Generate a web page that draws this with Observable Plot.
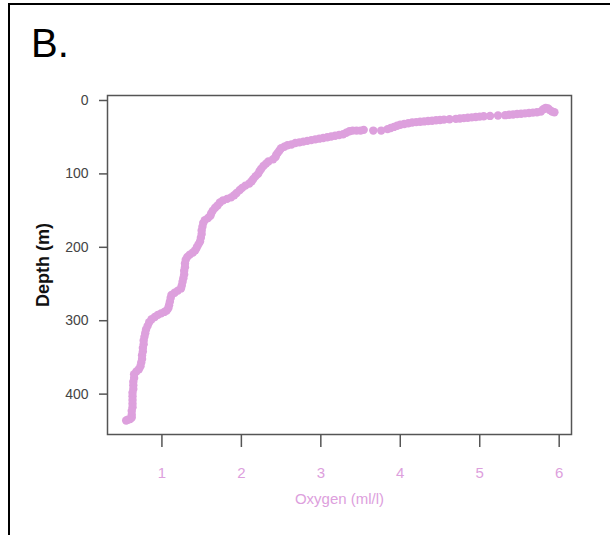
<!DOCTYPE html>
<html>
<head>
<meta charset="utf-8">
<script src="https://cdn.jsdelivr.net/npm/d3@7"></script>
<script src="https://cdn.jsdelivr.net/npm/@observablehq/plot@0.6"></script>
<style>
  html, body { margin: 0; padding: 0; background: #fff; }
  #wrap { position: relative; width: 610px; height: 535px; overflow: hidden; font-family: "Liberation Sans", Arial, sans-serif; }
  #border { position: absolute; left: 8px; top: 3px; width: 700px; height: 600px; border-left: 2.5px solid #000; border-top: 2.5px solid #000; }
  #title { position: absolute; left: 31px; top: 23px; font-size: 40px; line-height: 1; color: #000; }
  #chart { position: absolute; left: 0; top: 60px; }
  #chart g[aria-label="x-axis tick label"] { fill: #dda0dd; }
  #chart g[aria-label="y-axis tick label"] { fill: #444; }
</style>
</head>
<body>
<div id="wrap">
  <div id="border"></div>
  <div id="title">B.</div>
  <div id="chart"></div>
</div>
<script>
// Oxygen (ml/l) and depth (m), read from the profile, surface to bottom
const oxygen = [5.94,5.91,5.88,5.86,5.83,5.80,5.77,5.72,5.67,5.62,5.57,5.52,5.47,5.42,5.37,5.32,5.23,5.13,5.05,5.00,4.95,4.90,4.85,4.80,4.75,4.70,4.62,4.55,4.50,4.45,4.40,4.35,4.30,4.25,4.20,4.15,4.10,4.05,4.00,3.96,3.92,3.88,3.84,3.76,3.66,3.54,3.50,3.45,3.40,3.36,3.32,3.28,3.23,3.18,3.13,3.08,3.03,2.98,2.93,2.88,2.83,2.78,2.73,2.68,2.63,2.58,2.54,2.50,2.48,2.46,2.44,2.43,2.40,2.34,2.31,2.28,2.25,2.23,2.21,2.18,2.15,2.13,2.10,2.05,2.01,1.98,1.94,1.91,1.87,1.82,1.77,1.73,1.70,1.67,1.64,1.62,1.61,1.58,1.54,1.52,1.51,1.50,1.50,1.49,1.48,1.46,1.44,1.42,1.39,1.35,1.32,1.30,1.29,1.29,1.28,1.28,1.27,1.26,1.25,1.24,1.20,1.16,1.12,1.11,1.10,1.09,1.08,1.06,1.03,0.99,0.95,0.91,0.87,0.84,0.82,0.80,0.79,0.78,0.77,0.77,0.76,0.76,0.75,0.75,0.74,0.73,0.71,0.68,0.65,0.65,0.64,0.64,0.64,0.63,0.63,0.63,0.63,0.63,0.62,0.62,0.62,0.60,0.57,0.55];
const depth = [16,15,13,11,10,12,15,16,16.5,17,17.5,18,18.5,19,19.5,20,20.5,21,21.5,22,22.5,23,23.5,24,24.5,25,25.5,26,26.5,27,27.5,28,28.5,29,29.5,30,31,32,33,34.5,36,37.5,39,41,41,40,41,41,41,42,44,46,47,48,49,50,51,52,53,54,55,56,57,58,60,61,63,65,68,71,74,77,80,83,86,89,93,96,100,103,107,110,113,116,119,122,126,129,132,134,136,139,143,146,150,154,157,160,163,167,172,177,182,187,192,196,200,204,207,210,213,217,222,227,232,237,242,247,252,256,259,262,265,269,274,279,283,286,288,290,292,295,298,302,307,312,317,322,327,332,337,342,347,352,357,362,366,369,373,378,383,388,393,398,403,408,413,418,423,428,432,434,435,436];

const xTicks = [1, 2, 3, 4, 5, 6];
const yTicks = [0, 100, 200, 300, 400];
const xLabel = "Oxygen (ml/l)";
const yLabel = "Depth (m)";

const data = oxygen.map((o, i) => ({oxygen: o, depth: depth[i]}));

const chart = Plot.plot({
  width: 610,
  height: 475,
  marginTop: 35,
  marginBottom: 101,
  marginLeft: 107,
  marginRight: 39,
  style: {fontFamily: "'Liberation Sans', Arial, sans-serif", background: "transparent"},
  x: {domain: [0.315, 6.155]},
  y: {domain: [-6.8, 455], reverse: true},
  marks: [
    Plot.frame({stroke: "#555", strokeWidth: 1.5}),
    Plot.axisX({ticks: xTicks, tickSize: 13, tickPadding: 20, stroke: "#555", strokeWidth: 1.5, fontSize: 15, label: null, tickFormat: d => String(d)}),
    Plot.axisY({ticks: yTicks, tickSize: 8, tickPadding: 11, stroke: "#555", strokeWidth: 1.5, fontSize: 14, label: null, tickFormat: d => String(d)}),
    Plot.dot(data, {x: "oxygen", y: "depth", r: 4.2, fill: "#dda0dd", stroke: "none"}),
    Plot.text([xLabel], {frameAnchor: "bottom", dy: 65, lineAnchor: "middle", textAnchor: "middle", fontSize: 15, fill: "#dda0dd"}),
    Plot.text([yLabel], {frameAnchor: "left", dx: -64, rotate: -90, textAnchor: "middle", lineAnchor: "middle", fontSize: 18, fontWeight: "bold", fill: "#111"})
  ]
});
document.getElementById("chart").appendChild(chart);
</script>
</body>
</html>
